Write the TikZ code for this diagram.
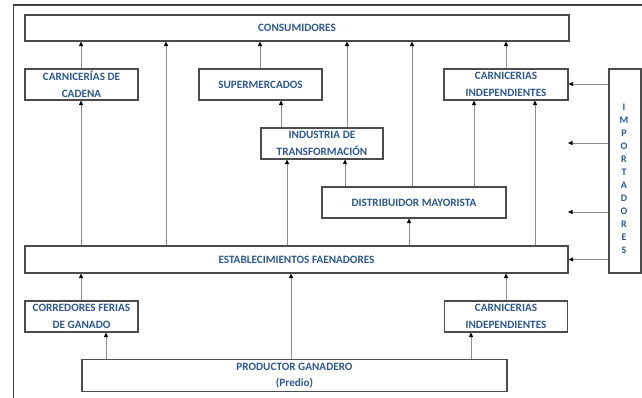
\documentclass[tikz,border=0pt]{standalone}
\usepackage{fontspec}
\setmainfont{Carlito}
\usetikzlibrary{arrows.meta}
\definecolor{azul}{RGB}{46,88,140}
\tikzset{
    caja/.style={draw=black!70, line width=1.1pt, fill=white, text=azul, inner sep=0pt,
        align=center, font=\bfseries\fontsize{11.2}{17}\selectfont},
    flecha/.style={draw=black!45, line width=0.8pt, -{Triangle[length=4.5pt,width=4pt,fill=black,color=black]}},
}

\begin{document}
\begin{tikzpicture}[x=1pt,y=-1pt]
            \useasboundingbox (0,0) rectangle (642,398);
            % marco
            \draw[black!75, line width=1.6pt] (13.5,420) -- (13.5,5) -- (660,5);
            % cajas
            \node[caja, minimum width=544pt, minimum height=26pt] (cons) at (297,28) {CONSUMIDORES};
            \node[caja, minimum width=113pt, minimum height=31pt] (cadena) at (81.5,84.5) {CARNICERÍAS DE\\CADENA};
            \node[caja, minimum width=123pt, minimum height=31pt] (super) at (260.5,84.5) {SUPERMERCADOS};
            \node[caja, minimum width=124pt, minimum height=31pt] (indtop) at (506,84.5) {CARNICERIAS\\INDEPENDIENTES};
            \node[caja, minimum width=32pt, minimum height=204pt] (import) at (625,171) {};
            \node[text=azul, font=\bfseries\fontsize{10}{13}\selectfont, align=center] (importtxt) at (624,178.5)
                {I\\M\\P\\O\\R\\T\\A\\D\\O\\R\\E\\S};
            \node[caja, minimum width=122pt, minimum height=31pt] (industria) at (322,143.5) {INDUSTRIA DE\\TRANSFORMACIÓN};
            \node[caja, minimum width=184pt, minimum height=31pt] (distrib) at (414,202.5) {DISTRIBUIDOR MAYORISTA};
            \node[caja, minimum width=543pt, minimum height=27pt] (estab) at (296.5,259.5) {ESTABLECIMIENTOS FAENADORES};
            \node[caja, minimum width=113pt, minimum height=31pt] (corred) at (81.5,316.5) {CORREDORES FERIAS\\DE GANADO};
            \node[caja, minimum width=123pt, minimum height=31pt] (indbot) at (506,316.5) {CARNICERIAS\\INDEPENDIENTES};
            \node[caja, minimum width=425pt, minimum height=32pt, font=\bfseries\fontsize{11.2}{16}\selectfont] (prod) at (294.5,375.5) {PRODUCTOR GANADERO\\(Predio)};
            \coordinate (libre1) at (568,143);
            \coordinate (libre2) at (568,212);
            % hacia consumidores
            \draw[flecha] (cadena.north -| 81,0) -- (cons.south -| 81,0);
            \draw[flecha] (estab.north -| 166,0) -- (cons.south -| 166,0);
            \draw[flecha] (super.north -| 260,0) -- (cons.south -| 260,0);
            \draw[flecha] (industria.north -| 347,0) -- (cons.south -| 347,0);
            \draw[flecha] (distrib.north -| 412,0) -- (cons.south -| 412,0);
            \draw[flecha] (indtop.north -| 506,0) -- (cons.south -| 506,0);
            % nivel intermedio
            \draw[flecha] (estab.north -| 81,0) -- (cadena.south -| 81,0);
            \draw[flecha] (industria.north -| 281,0) -- (super.south -| 281,0);
            \draw[flecha] (distrib.north -| 474,0) -- (indtop.south -| 474,0);
            \draw[flecha] (estab.north -| 535,0) -- (indtop.south -| 535,0);
            \draw[flecha] (estab.north -| 287,0) -- (industria.south -| 287,0);
            \draw[flecha] (distrib.north -| 345,0) -- (industria.south -| 345,0);
            \draw[flecha] (estab.north -| 409,0) -- (distrib.south -| 409,0);
            % importadores
            \draw[flecha] (import.west |- 0,84) -- (indtop.east |- 0,84);
            \draw[flecha] (import.west |- libre1) -- (libre1);
            \draw[flecha] (import.west |- libre2) -- (libre2);
            \draw[flecha] (import.west |- estab.east) -- (estab.east);
            % desde productor
            \draw[flecha] (corred.north -| 81,0) -- (estab.south -| 81,0);
            \draw[flecha] (prod.north -| 291,0) -- (estab.south -| 291,0);
            \draw[flecha] (indbot.north -| 506,0) -- (estab.south -| 506,0);
            \draw[flecha] (prod.north -| 106,0) -- (corred.south -| 106,0);
            \draw[flecha] (prod.north -| 471,0) -- (indbot.south -| 471,0);
        \end{tikzpicture}
\end{document}
